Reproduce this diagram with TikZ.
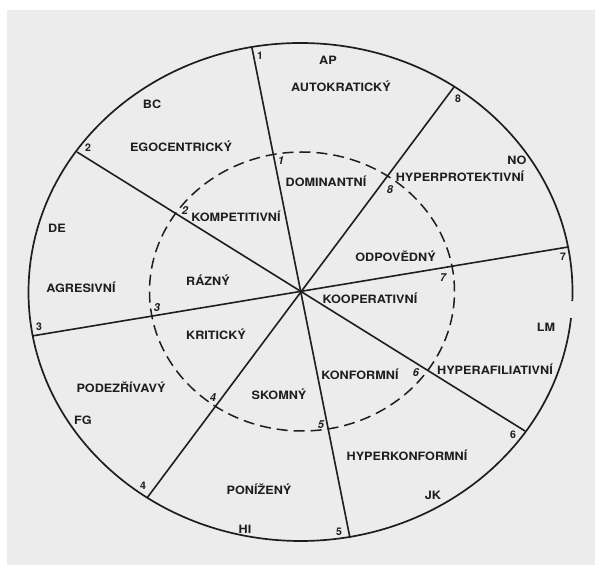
\documentclass[tikz,border=0pt]{standalone}
\usepackage{fontspec}
\usetikzlibrary{calc}
\setmainfont{TeX Gyre Heros}
\newfontfamily\labfont{TeX Gyre Heros}[FakeStretch=1.1]
\definecolor{bgc}{RGB}{236,236,236}
\definecolor{ink}{RGB}{30,30,30}
\tikzset{
  lab/.style={inner sep=0pt, anchor=base, yshift=-4.2pt, text=ink,
    font=\labfont\fontsize{11.5}{13}\selectfont\bfseries},
  onum/.style={inner sep=0pt, anchor=base, yshift=-3.8pt, text=ink,
    font=\fontsize{10.5}{12}\selectfont\bfseries},
  inum/.style={inner sep=0pt, anchor=base, yshift=-3.8pt, text=ink,
    font=\fontsize{11}{12}\selectfont\bfseries\itshape},
  divline/.style={draw=ink, line width=1.6pt},
  rim/.style={draw=ink, line width=1.7pt},
  dashring/.style={draw=ink, line width=1.5pt, dash pattern=on 11pt off 6pt}
}
\begin{document}
\begin{tikzpicture}[x=1pt,y=1pt]
\useasboundingbox (0,0) rectangle (595,565);
\fill[white] (0,0) rectangle (595,565);
\fill[bgc] (7,0) rectangle (595,555);
% centre and outer ends of the dividing lines
\coordinate (c) at (300.5,273);
\coordinate (e1) at (252,517);
\coordinate (e5) at (350,27);
\coordinate (e2) at (77,413);
\coordinate (e6) at (525,134);
\coordinate (e3) at (32,229);
\coordinate (e7) at (568,318);
\coordinate (e4) at (147,67);
\coordinate (e8) at (454,478);
% outer rim with a small gap on the right
\coordinate (gapA) at ($(c)+(-2.1:272pt and 249pt)$);
\draw[rim] (gapA) arc[start angle=-2.1, end angle=354, x radius=272pt, y radius=249pt];
% inner dashed ring
\coordinate (ci) at (302,273.5);
\draw[dashring] (ci) ellipse[x radius=152.5pt, y radius=139.5pt];
% dividing lines
\draw[divline] (e1) -- (e5);
\draw[divline] (e2) -- (e6);
\draw[divline] (e3) -- (e7);
\draw[divline] (e4) -- (e8);
% outer labels
\node[lab] (ap) at (328,505) {AP};
\node[lab] (auto) at (341,478) {AUTOKRATICKÝ};
\node[lab] (bc) at (152,461) {BC};
\node[lab] (ego) at (181,418) {EGOCENTRICKÝ};
\node[lab] (no) at (517,405) {NO};
\node[lab] (hprot) at (460,388) {HYPERPROTEKTIVNÍ};
\node[lab] (de) at (57,337) {DE};
\node[lab] (agr) at (81,277) {AGRESIVNÍ};
\node[lab] (lm) at (546,238) {LM};
\node[lab] (hafil) at (495,195) {HYPERAFILIATIVNÍ};
\node[lab] (podez) at (121,177) {PODEZŘÍVAVÝ};
\node[lab] (fg) at (83,145) {FG};
\node[lab] (hkonf) at (407,109) {HYPERKONFORMNÍ};
\node[lab] (poniz) at (259,75) {PONÍŽENÝ};
\node[lab] (jk) at (433,70) {JK};
\node[lab] (hi) at (245,36) {HI};
% inner labels
\node[lab] (dom) at (326,383) {DOMINANTNÍ};
\node[lab] (komp) at (236,348) {KOMPETITIVNÍ};
\node[lab] (odp) at (395.5,308) {ODPOVĚDNÝ};
\node[lab] (razny) at (208,284) {RÁZNÝ};
\node[lab] (koop) at (370,266) {KOOPERATIVNÍ};
\node[lab] (krit) at (216,230) {KRITICKÝ};
\node[lab] (konf) at (360,190) {KONFORMNÍ};
\node[lab] (skom) at (279,170) {SKOMNÝ};
% outer numbers
\node[onum] (o1) at (260,509) {1};
\node[onum] (o8) at (458,466) {8};
\node[onum] (o2) at (88,417) {2};
\node[onum] (o7) at (563,308) {7};
\node[onum] (o3) at (39,238) {3};
\node[onum] (o6) at (513,130) {6};
\node[onum] (o4) at (143,79) {4};
\node[onum] (o5) at (339,33) {5};
% inner numbers
\node[inum] (i1) at (281,404) {1};
\node[inum] (i8) at (390,375) {8};
\node[inum] (i2) at (185,354) {2};
\node[inum] (i7) at (443,287) {7};
\node[inum] (i3) at (157,257) {3};
\node[inum] (i6) at (416,192) {6};
\node[inum] (i4) at (213,167) {4};
\node[inum] (i5) at (321,140) {5};
\end{tikzpicture}
\end{document}
